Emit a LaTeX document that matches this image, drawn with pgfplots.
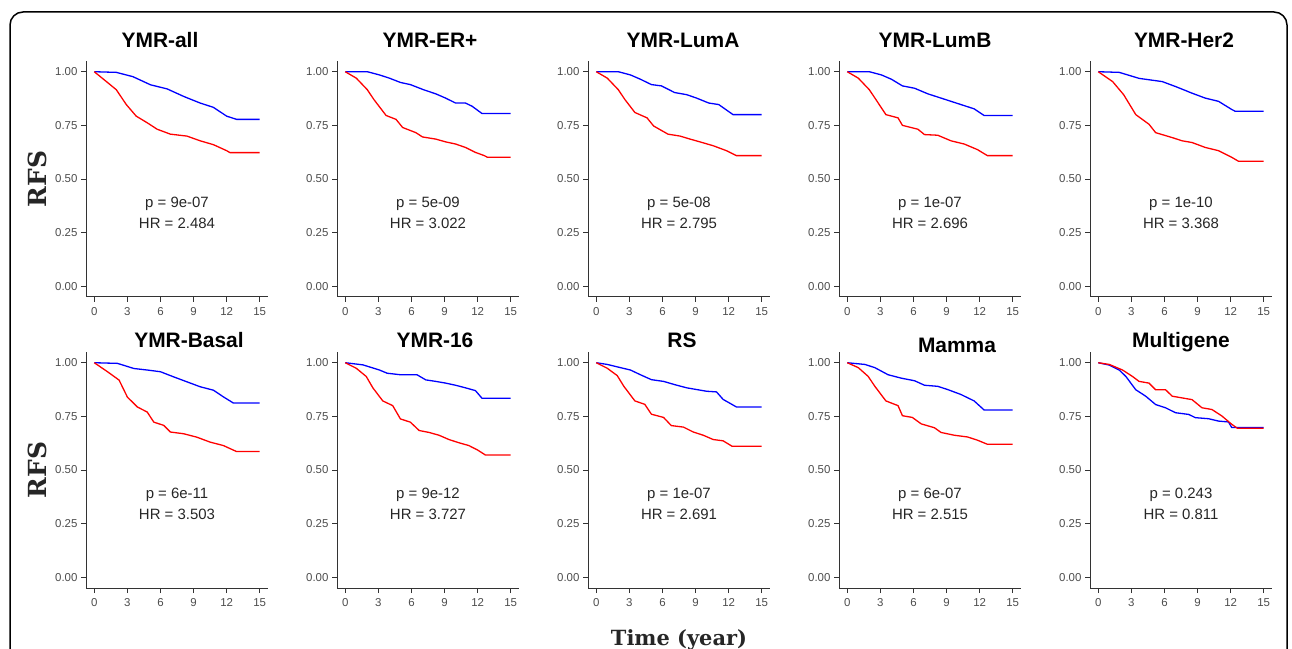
\documentclass[border=0pt]{standalone}
\usepackage{pgfplots}
\pgfplotsset{compat=1.18}
\usepackage{fontspec}
\setmainfont{Liberation Sans}
\newfontfamily\slabfont{DejaVu Serif}
\definecolor{kmblue}{RGB}{0,0,255}
\definecolor{kmred}{RGB}{255,0,0}
\definecolor{tickgray}{RGB}{77,77,77}
\pgfplotsset{
  km/.style={
    scale only axis, width=182bp, height=236bp,
    anchor=south west,
    xmin=-0.75, xmax=15.75, ymin=-0.05, ymax=1.05,
    axis x line*=bottom, axis y line*=left,
    axis line style={draw=black!80, line width=1bp, -},
    tick align=outside, major tick length=5bp,
    tick style={draw=black!80, line width=0.8bp},
    xtick={0,3,...,15}, ytick={0,0.25,0.5,0.75,1},
    yticklabels={0.00,0.25,0.50,0.75,1.00},
    /pgf/number format/assume math mode=true,
    tick label style={font=\fontsize{11.5}{13}\selectfont, text=tickgray},
    xticklabel style={yshift=-2bp},
    title style={font=\bfseries\fontsize{21}{25}\selectfont, at={(0.5,1)}, anchor=base},
    clip=false,
  },
  top/.style={title style={yshift=8bp}},
  bot/.style={title style={yshift=-1bp}},
  rfs/.style={ylabel={RFS}, ylabel style={at={(axis description cs:-0.266,0.5)}, anchor=center, font=\slabfont\bfseries\fontsize{25}{29}\selectfont, text=black!85}},
  bl/.style={kmblue, line width=1.3bp, no marks},
  rd/.style={kmred, line width=1.3bp, no marks},
}
\tikzset{ptxt/.style={font=\fontsize{15}{18}\selectfont, text=black!85}}
\newcommand{\pv}[2]{\node[ptxt] at (axis cs:7.5,0.385) {#1};\node[ptxt] at (axis cs:7.5,0.295) {#2};}
\begin{document}
\begin{tikzpicture}
\path[use as bounding box] (0,0) rectangle (1292bp,649bp);
\clip (0,0) rectangle (1292bp,649bp);
\draw[line width=1.5bp, rounded corners=13bp] (10bp,-30bp) -- (10bp,637bp) -- (1287bp,637bp) -- (1287bp,-30bp);

% ---------- Row 1 ----------
\begin{axis}[km, top, rfs, at={(86bp,352bp)}, title={YMR-all}, title style={xshift=-17bp}]
\addplot[bl] coordinates {(0,1)(2,0.997)(3.5,0.977)(5.1,0.939)(6.6,0.92)(8.1,0.885)(9.6,0.854)(10.8,0.834)(12,0.793)(12.9,0.778)(15,0.778)};
\addplot[rd] coordinates {(0,1)(1.1,0.954)(2,0.916)(2.9,0.847)(3.8,0.793)(4.8,0.762)(5.7,0.732)(6.9,0.709)(8.4,0.70)(9.6,0.678)(10.8,0.66)(12,0.632)(12.3,0.623)(15,0.623)};
\pv{p = 9e-07}{HR = 2.484}
\end{axis}

\begin{axis}[km, top, at={(337bp,352bp)}, title={YMR-ER+}, title style={xshift=2bp}]
\addplot[bl] coordinates {(0,1)(2,1)(3.1,0.985)(4,0.97)(5,0.95)(5.9,0.94)(7.1,0.916)(8.2,0.897)(9.1,0.877)(10,0.854)(10.9,0.854)(11.5,0.839)(12.4,0.805)(15,0.805)};
\addplot[rd] coordinates {(0,1)(1,0.97)(2,0.916)(2.6,0.87)(3.7,0.796)(4.6,0.778)(5.2,0.74)(6.4,0.716)(7,0.696)(8.2,0.686)(9.1,0.673)(10,0.663)(10.9,0.647)(11.8,0.624)(12.6,0.609)(12.9,0.601)(15,0.601)};
\pv{p = 5e-09}{HR = 3.022}
\end{axis}

\begin{axis}[km, top, at={(588bp,352bp)}, title={YMR-LumA}, title style={xshift=4bp}]
\addplot[bl] coordinates {(0,1)(2,1)(3.1,0.985)(4,0.965)(5,0.94)(5.9,0.934)(7.1,0.903)(8.2,0.893)(9.1,0.877)(10.2,0.854)(11.1,0.847)(12.4,0.80)(15,0.80)};
\addplot[rd] coordinates {(0,1)(1,0.97)(2,0.916)(2.6,0.87)(3.5,0.81)(4.6,0.785)(5.2,0.747)(6.5,0.709)(7.6,0.70)(8.5,0.686)(9.4,0.673)(10.6,0.655)(11.8,0.632)(12.7,0.609)(15,0.609)};
\pv{p = 5e-08}{HR = 2.795}
\end{axis}

\begin{axis}[km, top, at={(839bp,352bp)}, title={YMR-LumB}, title style={xshift=5bp}]
\addplot[bl] coordinates {(0,1)(2,1)(3.1,0.985)(4,0.965)(5,0.934)(6.1,0.923)(7.3,0.897)(8.5,0.877)(9.7,0.857)(10.6,0.842)(11.5,0.827)(12.4,0.796)(15,0.796)};
\addplot[rd] coordinates {(0,1)(1,0.97)(2,0.916)(2.6,0.87)(3.5,0.80)(4.6,0.785)(5,0.75)(6.4,0.732)(7,0.707)(8.2,0.704)(9.4,0.678)(10.6,0.663)(11.8,0.637)(12.7,0.609)(15,0.609)};
\pv{p = 1e-07}{HR = 2.696}
\end{axis}

\begin{axis}[km, top, at={(1090bp,352bp)}, title={YMR-Her2}, title style={xshift=3bp}]
\addplot[bl] coordinates {(0,1)(1.9,0.997)(3.7,0.969)(5.8,0.954)(7,0.931)(8.5,0.9)(9.7,0.877)(10.9,0.862)(12.1,0.824)(12.4,0.816)(15,0.816)};
\addplot[rd] coordinates {(0,1)(1.3,0.954)(2.3,0.893)(3.4,0.80)(4.6,0.755)(5.2,0.716)(6.7,0.693)(7.6,0.678)(8.5,0.67)(9.7,0.647)(10.9,0.632)(12.1,0.601)(12.7,0.583)(15,0.583)};
\pv{p = 1e-10}{HR = 3.368}
\end{axis}

% ---------- Row 2 ----------
\begin{axis}[km, bot, rfs, at={(86bp,61bp)}, title={YMR-Basal}, title style={xshift=12bp}]
\addplot[bl] coordinates {(0,1)(2.1,0.997)(3.6,0.973)(4.8,0.966)(6,0.958)(7.2,0.934)(8.4,0.911)(9.6,0.888)(10.8,0.872)(11.7,0.841)(12.6,0.8125)(15,0.8125)};
\addplot[rd] coordinates {(0,1)(1.2,0.958)(2.25,0.919)(3,0.84)(3.9,0.794)(4.8,0.77)(5.4,0.723)(6.3,0.708)(6.9,0.677)(8.1,0.669)(9.3,0.653)(10.5,0.63)(11.7,0.614)(12.9,0.586)(15,0.586)};
\pv{p = 6e-11}{HR = 3.503}
\end{axis}

\begin{axis}[km, bot, at={(337bp,61bp)}, title={YMR-16}, title style={xshift=7bp}]
\addplot[bl] coordinates {(0,1)(1.6,0.99)(3.1,0.966)(3.8,0.951)(5,0.944)(6.5,0.944)(7.3,0.92)(8.2,0.913)(9.1,0.905)(10,0.895)(10.9,0.883)(11.8,0.87)(12.4,0.834)(15,0.834)};
\addplot[rd] coordinates {(0,1)(1,0.974)(1.9,0.936)(2.5,0.883)(3.4,0.822)(4.3,0.80)(5,0.738)(5.9,0.723)(6.7,0.684)(7.6,0.675)(8.5,0.662)(9.4,0.642)(10.3,0.627)(11.2,0.614)(12,0.593)(12.7,0.57)(15,0.57)};
\pv{p = 9e-12}{HR = 3.727}
\end{axis}

\begin{axis}[km, bot, at={(588bp,61bp)}, title={RS}, title style={xshift=3bp},
  xlabel={Time (year)}, xlabel style={at={(axis description cs:0.5,-0.244)}, anchor=base, font=\slabfont\bfseries\fontsize{21}{25}\selectfont, text=black!85}]
\addplot[bl] coordinates {(0,1)(1,0.992)(2.2,0.977)(3.1,0.966)(4,0.944)(5,0.921)(6.1,0.913)(7.1,0.898)(8.2,0.883)(9.1,0.875)(10,0.867)(10.9,0.864)(11.5,0.829)(12.7,0.794)(15,0.794)};
\addplot[rd] coordinates {(0,1)(1,0.974)(1.9,0.94)(2.5,0.89)(3.5,0.822)(4.4,0.806)(5,0.76)(6.1,0.745)(6.8,0.707)(7.9,0.70)(8.8,0.677)(9.7,0.662)(10.6,0.642)(11.5,0.636)(12.3,0.611)(15,0.611)};
\pv{p = 1e-07}{HR = 2.691}
\end{axis}

\begin{axis}[km, bot, at={(839bp,61bp)}, title={Mamma}, title style={xshift=27bp, yshift=-5bp}]
\addplot[bl] coordinates {(0,1)(1.6,0.992)(2.5,0.977)(3.7,0.944)(4.9,0.928)(6.1,0.916)(7,0.895)(8.2,0.89)(9.1,0.875)(10.3,0.852)(11.5,0.822)(12.4,0.78)(15,0.78)};
\addplot[rd] coordinates {(0,1)(1,0.977)(1.9,0.936)(2.5,0.89)(3.5,0.822)(4.6,0.80)(5,0.753)(5.9,0.745)(6.7,0.715)(7.9,0.697)(8.5,0.675)(9.7,0.662)(10.9,0.654)(11.8,0.639)(12.7,0.62)(15,0.62)};
\pv{p = 6e-07}{HR = 2.515}
\end{axis}

\begin{axis}[km, bot, at={(1090bp,61bp)}, title={Multigene}]
\addplot[bl] coordinates {(0,1)(1,0.989)(1.9,0.966)(2.5,0.936)(3.4,0.874)(4.3,0.844)(5.2,0.805)(6.1,0.79)(7,0.767)(8.2,0.759)(8.8,0.744)(10,0.739)(10.9,0.728)(11.8,0.724)(12.1,0.698)(15,0.698)};
\addplot[rd] coordinates {(0,1)(1,0.992)(2.2,0.966)(3.1,0.936)(3.7,0.913)(4.6,0.905)(5.2,0.874)(6.1,0.874)(6.7,0.844)(7.6,0.836)(8.5,0.828)(9.4,0.79)(10.3,0.782)(11.2,0.752)(12.1,0.713)(12.6,0.695)(15,0.695)};
\pv{p = 0.243}{HR = 0.811}
\end{axis}
\end{tikzpicture}
\end{document}
